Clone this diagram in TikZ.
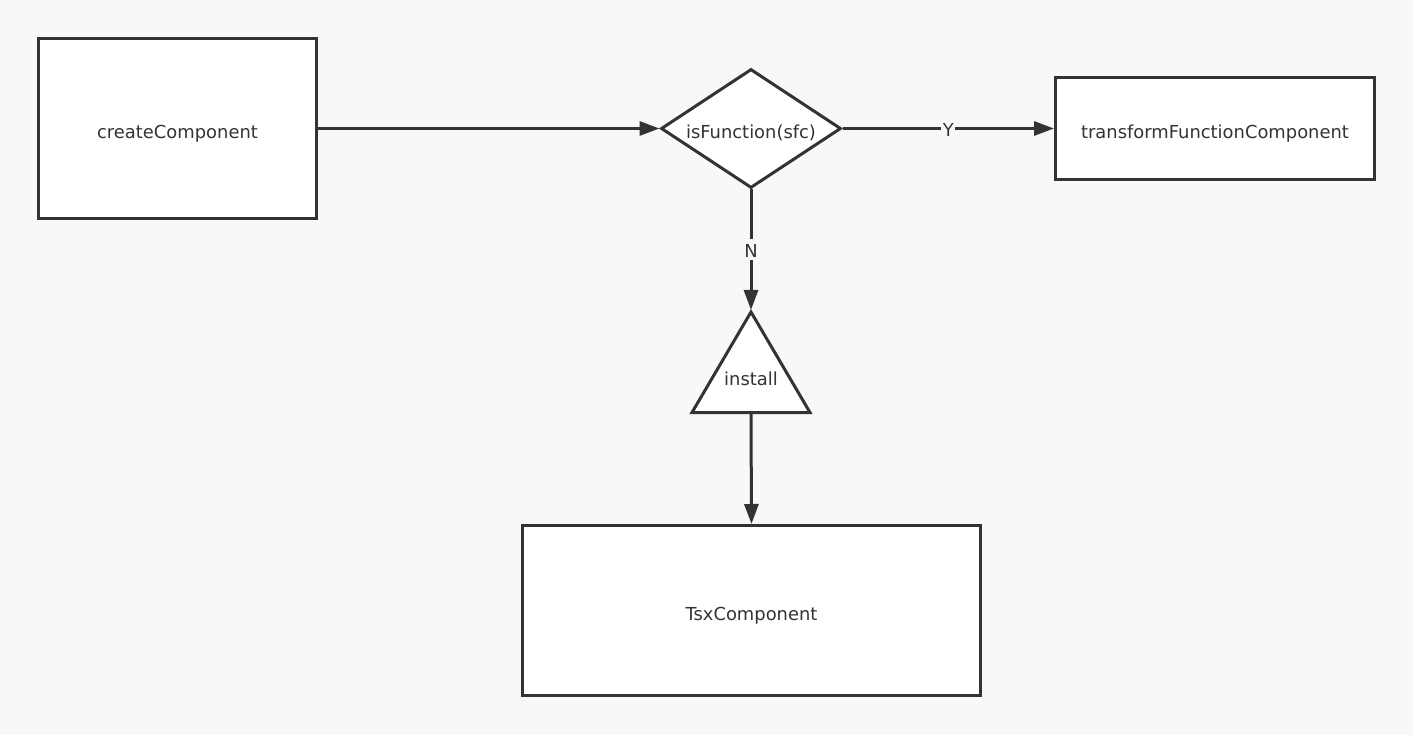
\documentclass[tikz,border=0pt]{standalone}
\usepackage{fontspec}
\setmainfont{DejaVu Sans}
\usetikzlibrary{shapes.geometric,arrows.meta}
\definecolor{bg}{HTML}{F8F8F8}
\definecolor{ink}{HTML}{333333}
\begin{document}
\begin{tikzpicture}[x=1pt,y=-1pt,
  txt/.style={text=ink,font=\fontsize{17.9}{21}\selectfont},
  low/.style={text height=20pt,text depth=0pt},
  box/.style={draw=ink,line width=3pt,fill=white,txt,low,inner sep=0pt},
  diam/.style={diamond,draw=ink,line width=3pt,fill=white,txt,low,inner sep=0pt,aspect=1.51},
  arr/.style={draw=ink,line width=3pt,-{Triangle[length=20pt,width=14pt]}},
  lbl/.style={fill=bg,txt,inner sep=1.5pt,text height=17pt,text depth=1pt}]
\fill[bg] (0,0) rectangle (1413,735);
\useasboundingbox (0,0) rectangle (1413,735);
\node[box,minimum width=278pt,minimum height=180pt] (create) at (177.5,128.5) {createComponent};
\node[diam,minimum width=180pt,minimum height=119pt] (isfn) at (751,128.5) {isFunction(sfc)};
\node[box,minimum width=319pt,minimum height=102pt] (transform) at (1215,128.5) {transformFunctionComponent};
\node[box,minimum width=458pt,minimum height=170pt] (tsx) at (751.5,610.5) {TsxComponent};
\filldraw[draw=ink,fill=white,line width=3pt,line join=miter] (751,312) -- (810,412.5) -- (692,412.5) -- cycle;
\node[txt,low] (install) at (751,375) {install};
\coordinate (triTop) at (751,310);
\coordinate (triBot) at (751,414);
\draw[arr] (create.east) -- (isfn.west);
\draw[arr] (isfn.east) -- node[lbl] (ylbl) {Y} (transform.west);
\draw[arr] (isfn.south) -- node[lbl] (nlbl) {N} (triTop);
\draw[arr] (triBot) -- (tsx.north);
\end{tikzpicture}
\end{document}
